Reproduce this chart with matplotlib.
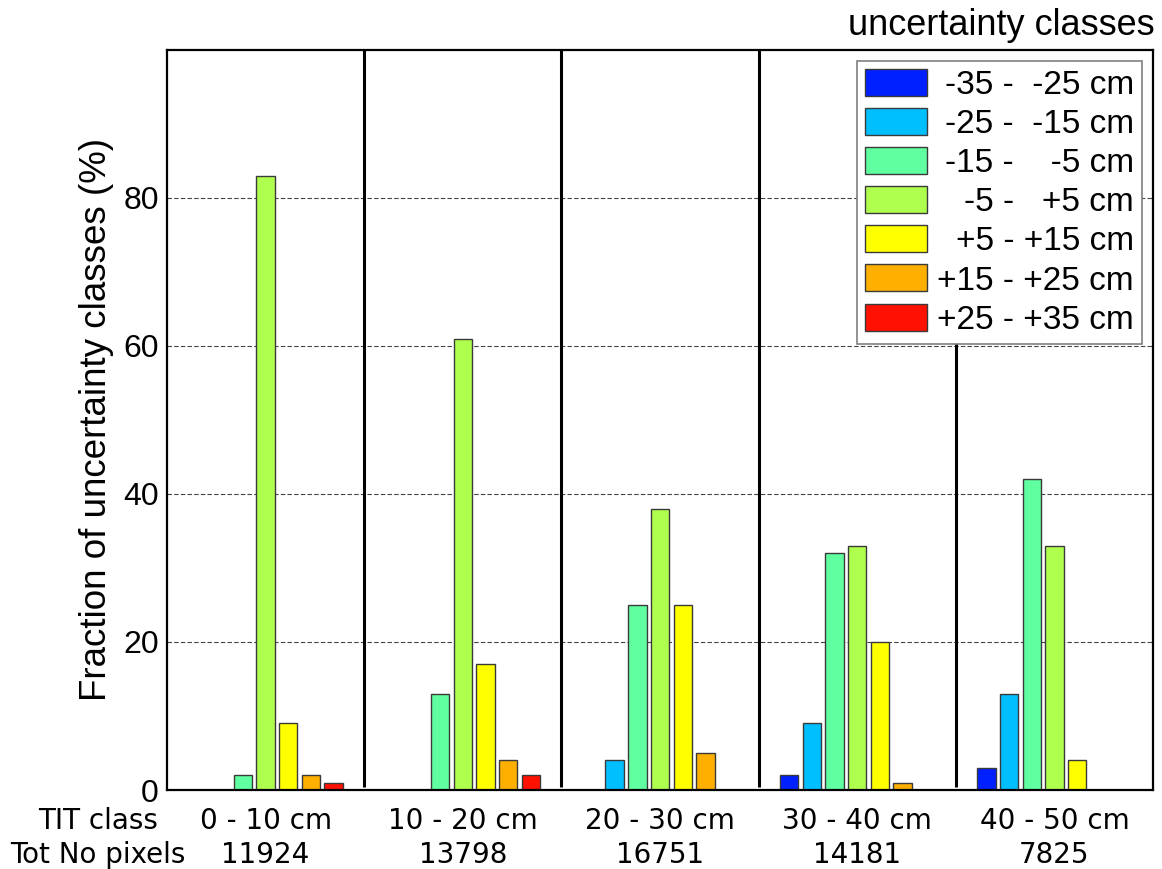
import numpy as np
import matplotlib
matplotlib.use('Agg')
import matplotlib.pyplot as plt
from matplotlib.patches import Patch

# TIT classes (groups) and the pixel count of each
tit_classes = ['0 - 10 cm', '10 - 20 cm', '20 - 30 cm', '30 - 40 cm', '40 - 50 cm']
tot_pixels = [11924, 13798, 16751, 14181, 7825]

# uncertainty classes (bars inside a group)
unc_labels = ['-35 -  -25 cm', '-25 -  -15 cm', '-15 -    -5 cm', '-5 -   +5 cm',
              '+5 - +15 cm', '+15 - +25 cm', '+25 - +35 cm']
unc_colors = ['#0020ff', '#00bfff', '#60ff9f', '#afff4f', '#ffff00', '#ffaf00', '#ff1000']

# fraction (%) per uncertainty class, one value per TIT class
frac_m35 = [0, 0, 0, 2, 3]
frac_m25 = [0, 0, 4, 9, 13]
frac_m15 = [2, 13, 25, 32, 42]
frac_m5 = [83, 61, 38, 33, 33]
frac_p5 = [9, 17, 25, 20, 4]
frac_p15 = [2, 4, 5, 1, 0]
frac_p25 = [1, 2, 0, 0, 0]
fractions = [frac_m35, frac_m25, frac_m15, frac_m5, frac_p5, frac_p15, frac_p25]

arial = ['Liberation Sans', 'DejaVu Sans']
verdana = ['DejaVu Sans']

fig = plt.figure(figsize=(11.62, 8.69), dpi=100)
ax = fig.add_axes([0.1437, 0.0909, 0.8486, 0.8516])

x = np.arange(1, len(tit_classes) + 1)
step = 0.115
width = 0.093
for i, vals in enumerate(fractions):
    ax.bar(x + (i - 3) * step, vals, width, color=unc_colors[i],
           edgecolor='#3a3a3a', linewidth=1.0, zorder=3)

# group separators (the last one stops under the legend)
sep_x = x[:-1] + 0.5
sep_top = [100, 100, 100, 60.5]
ax.vlines(sep_x, 0.4, sep_top, colors='black', linewidth=2.2, zorder=4)

ax.set_xlim(0.5, 5.5)
ax.set_ylim(0, 100)
ax.set_yticks([0, 20, 40, 60, 80])
ax.set_yticklabels(['0', '20', '40', '60', '80'], family=arial, fontsize=23)
ax.yaxis.grid(True, linestyle=(0, (4, 2)), color='#444444', linewidth=0.8, zorder=1)
ax.set_axisbelow(True)

ax.set_xticks(x)
ax.set_xticklabels([f'{c}\n{n}' for c, n in zip(tit_classes, tot_pixels)],
                   family=verdana, fontsize=20, linespacing=1.25)
ax.tick_params(axis='x', length=0, pad=12.5)
ax.tick_params(axis='y', length=0, pad=5.8)

ax.annotate('TIT class\nTot No pixels', xy=(98 / 1162, 0),
            xycoords=('figure fraction', 'axes fraction'),
            xytext=(0, -12.5), textcoords='offset points',
            ha='center', va='top', family=verdana, fontsize=20,
            linespacing=1.25, annotation_clip=False)

for s in ax.spines.values():
    s.set_linewidth(1.6)
    s.set_zorder(5)

ax.set_ylabel('Fraction of uncertainty classes (%)', family=arial, fontsize=26.5, labelpad=7)

handles = [Patch(facecolor=c, edgecolor='#3a3a3a', linewidth=1.0) for c in unc_colors]
leg = ax.legend(handles, unc_labels, loc='upper right', prop={'family': arial, 'size': 24},
                frameon=True, fancybox=False, framealpha=1, edgecolor='#808080',
                handlelength=1.86, handleheight=0.87, handletextpad=0.3,
                labelspacing=0.212, borderpad=0.25, borderaxespad=0.32)
leg.get_frame().set_linewidth(1.2)
leg.set_zorder(6)

fig.text(1155 / 1162, 1 - 35 / 869, 'uncertainty classes', ha='right', va='baseline',
         family=arial, fontsize=26)

# right-align legend labels like the original
fig.canvas.draw()
r = fig.canvas.get_renderer()
ws = [t.get_window_extent(renderer=r).width for t in leg.get_texts()]
for t, w in zip(leg.get_texts(), ws):
    t.set_position((max(ws) - w, 0))

fig.savefig('out.png', dpi=100)
